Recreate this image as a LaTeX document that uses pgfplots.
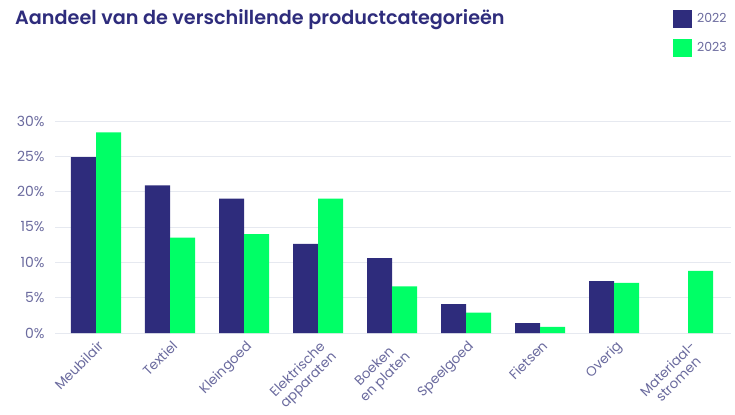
\documentclass[border=0pt]{standalone}
\usepackage{pgfplots}
\pgfplotsset{compat=1.18}
\usepackage{fontspec}
\setmainfont{Poppins}
\newfontfamily\titlefont{Poppins SemiBold}
\definecolor{navy}{HTML}{2E2C7C}
\definecolor{green23}{HTML}{00FF66}
\definecolor{ticktext}{HTML}{6A6A9E}
\definecolor{gridc}{HTML}{E6E9F0}
\definecolor{titlec}{HTML}{2E2C7C}
\begin{document}
\begin{tikzpicture}[x=1bp,y=1bp]
\useasboundingbox (0,0) rectangle (735,414);
\node[anchor=base west, inner sep=0, text=titlec, font=\titlefont\fontsize{19.2bp}{22bp}\selectfont] at (15,389) {Aandeel van de verschillende productcategorieën};
\begin{axis}[
  at={(55bp,81bp)}, anchor=south west,
  scale only axis, width=676bp, height=212bp,
  ybar=0pt, bar width=0.338,
  xmin=-0.554, xmax=8.58, ymin=0, ymax=30,
  xtick={0,...,8},
  xticklabels={Meubilair, Textiel, Kleingoed, {Elektrische\\apparaten}, {Boeken\\en platen}, Speelgoed, Fietsen, Overig, {Materiaal-\\stromen}},
  xticklabel style={xshift=1bp, yshift=-5bp, rotate=45, anchor=north east, align=center, font=\fontsize{13.5bp}{15bp}\selectfont, text=ticktext, inner sep=1bp},
  ytick={0,5,...,30},
  yticklabel={\pgfmathprintnumber{\tick}\%},
  yticklabel style={xshift=-7bp, font=\fontsize{14bp}{16bp}\selectfont, text=ticktext},
  /pgf/number format/assume math mode=true,
  axis line style={draw=none},
  major tick length=0pt,
  ymajorgrids, grid style={gridc, line width=1bp},
  legend style={at={(0.914,1.524)}, anchor=north west, draw=none, fill=none, inner sep=0pt,
    font=\fontsize{12.5bp}{14bp}\selectfont, text=ticktext, row sep=11bp,
    nodes={inner xsep=5bp}},
  legend cell align=left,
  legend image code/.code={\fill[#1] (0bp,-9bp) rectangle (19bp,9bp);},
]
\addplot[fill=navy, draw=none] coordinates {(0,24.9) (1,20.9) (2,19.0) (3,12.6) (4,10.6) (5,4.1) (6,1.4) (7,7.35)};
\addplot[fill=green23, draw=none] coordinates {(0,28.4) (1,13.5) (2,14.0) (3,19.0) (4,6.6) (5,2.9) (6,0.85) (7,7.1) (8,8.8)};
\legend{2022,2023}
\end{axis}
\end{tikzpicture}
\end{document}
